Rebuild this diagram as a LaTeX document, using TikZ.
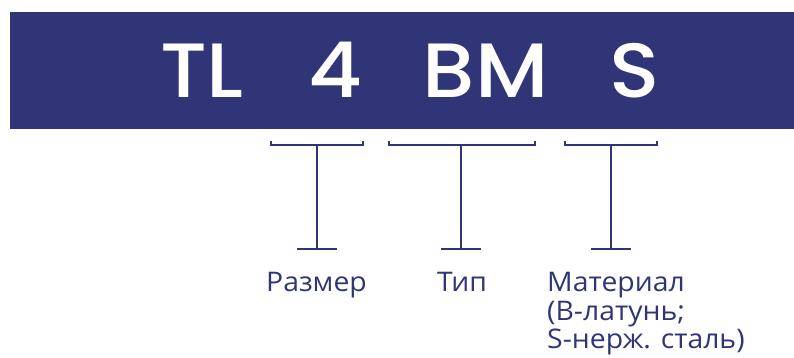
\documentclass[tikz,border=0pt]{standalone}
\usepackage{fontspec}
\setmainfont{Open Sans}[FakeStretch=1.05]
\newfontfamily\titlefont{Poppins Medium}[FakeStretch=1.08]
\definecolor{navy}{RGB}{47,53,118}
\tikzset{
  bar/.style={draw=navy, line width=2.6pt},
  code/.style={font=\titlefont\fontsize{77}{77}\selectfont, text=white, inner sep=0pt, anchor=base},
  lbl/.style={font=\fontsize{27}{29}\selectfont, text=navy, inner sep=0pt, anchor=base west},
}
\begin{document}
\begin{tikzpicture}[x=1pt,y=-1pt]
\useasboundingbox (0,0) rectangle (794,358);
\node[fill=navy, minimum width=784pt, minimum height=117pt, inner sep=0pt, anchor=north west] (banner) at (10,12) {};
\node[code] (tl) at (202,98) {TL};
\node[code] (n4) at (335,98) {4};
\node[code] (bm) at (485.5,98) {BM};
\node[code] (s) at (635,98) {S};
% brackets
\coordinate (b1l) at (271,141); \coordinate (b1r) at (363,141);
\coordinate (b1m) at (317,145); \coordinate (b1b) at (317,249);
\coordinate (b2l) at (389,141); \coordinate (b2r) at (535,141);
\coordinate (b2m) at (461,145); \coordinate (b2b) at (461,249);
\coordinate (b3l) at (565,141); \coordinate (b3r) at (657,141);
\coordinate (b3m) at (611,145); \coordinate (b3b) at (611,249);
\draw[bar] (b1l) -- (b1l |- b1m) -- (b1r |- b1m) -- (b1r);
\draw[bar] (b1m) -- (b1b);
\draw[bar] ([xshift=-20pt]b1b) -- ([xshift=20pt]b1b);
\draw[bar] (b2l) -- (b2l |- b2m) -- (b2r |- b2m) -- (b2r);
\draw[bar] (b2m) -- (b2b);
\draw[bar] ([xshift=-20pt]b2b) -- ([xshift=20pt]b2b);
\draw[bar] (b3l) -- (b3l |- b3m) -- (b3r |- b3m) -- (b3r);
\draw[bar] (b3m) -- (b3b);
\draw[bar] ([xshift=-20pt]b3b) -- ([xshift=20pt]b3b);
% labels
\node[lbl] (size) at (266,291) {Размер};
\node[lbl] (type) at (437,291) {Тип};
\node[lbl] (mat1) at (547,291) {Материал};
\node[lbl] (mat2) at (547,320) {(В-латунь;};
\node[lbl] (mat3) at (547,348) {S-нерж. сталь)};
\end{tikzpicture}
\end{document}
